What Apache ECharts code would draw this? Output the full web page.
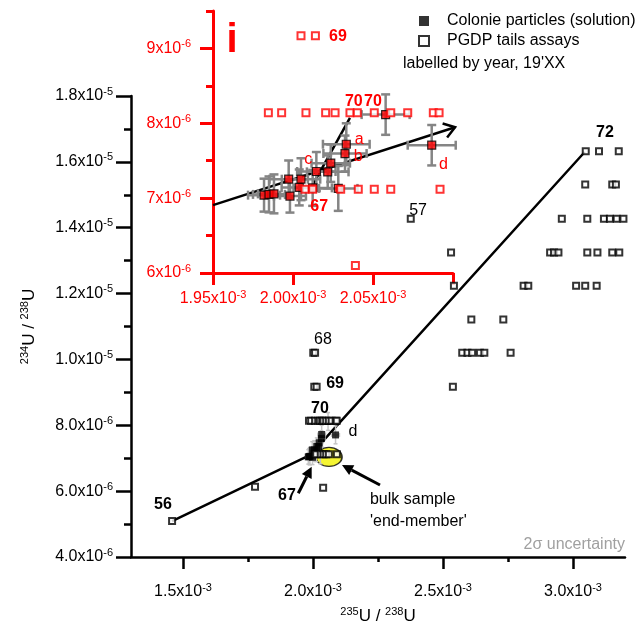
<!DOCTYPE html>
<html><head><meta charset="utf-8">
<script src="https://cdn.jsdelivr.net/npm/echarts@6/dist/echarts.min.js"></script>
<style>html,body{margin:0;padding:0;background:#fff}#c{width:640px;height:628px}</style>
</head><body><div id="c"></div>
<script>
const FONT = "'Liberation Sans', Arial, Helvetica, sans-serif";
// units: x in 1e-3, y in 1e-6
const colonieX = [1.9819,1.9850,1.9881,1.9973,1.9981,2.0039,2.0050,2.0123,2.0146,2.0217,2.0236,2.0283,2.0325,2.0333,2.0579,2.0867];
const colonieY = [7.040,7.050,7.057,7.253,7.027,7.143,7.253,7.137,7.356,7.351,7.467,7.130,7.596,7.720,8.116,7.707];
const colonieXErr = [0.010,0.010,0.010,0.012,0.010,0.011,0.012,0.012,0.012,0.013,0.012,0.012,0.0135,0.0146,0.015,0.015];
const colonieYErr = [0.22,0.24,0.26,0.25,0.22,0.24,0.28,0.24,0.26,0.22,0.25,0.30,0.24,0.28,0.27,0.27];

const pgdpX = [1.458,
  1.777,2.039,
  2.0075,2.0123,2.0298,2.0408,2.0508,2.0611,2.0919,
  1.9846,1.9929,2.0081,2.0204,2.0263,2.0356,2.0402,2.0508,2.0611,2.0717,2.0877,2.0913,
  2.005,2.014,2.538,
  2.001,2.008,2.574,2.594,2.612,2.642,2.659,2.760,
  2.609,2.732,
  2.542,2.810,2.828,3.012,3.047,3.091,
  2.531,2.912,2.927,2.944,3.055,3.094,3.151,3.178,
  2.376,2.957,3.055,3.119,3.142,3.168,3.194,
  3.047,3.151,3.165,
  3.049,3.100,3.176];
const pgdpY = [5.09,
  6.13,6.10,
  7.12,7.12,7.12,7.12,7.12,7.12,7.12,
  8.14,8.14,8.14,8.14,8.14,8.14,8.14,8.14,8.14,8.14,8.14,8.14,
  9.17,9.17,9.17,
  10.20,10.20,10.20,10.20,10.20,10.20,10.20,10.20,
  11.21,11.21,
  12.24,12.24,12.24,12.24,12.24,12.24,
  13.25,13.25,13.25,13.25,13.25,13.25,13.25,13.25,
  14.27,14.27,14.27,14.27,14.27,14.27,14.27,
  15.31,15.31,15.31,
  16.32,16.32,16.32];

// trend lines (main)
const mainLineX = [1.458, 1.99, 3.045];
const mainLineY = [5.09, 7.10, 16.30];
// inset lines: [x0,y0,x1,y1,arrowhead]
const insetLines = [[1.95,6.907,2.1013,7.947,1],[2.0113,7.137,2.0356,8.071,0]];
// main arrows (tail -> head)
const mainArrows = [[1.9435,5.935,1.995,6.742],[2.2577,6.187,2.1115,6.794]];
const ellipseCenter = [2.0615, 7.04];

// tick values / labels
const mainXTicks = [1.5,2.0,2.5,3.0];
const mainXTickMant = ['1.5','2.0','2.5','3.0'];
const mainXTickExp = ['-3','-3','-3','-3'];
const mainXMinor = [1.75,2.25,2.75];
const mainYTicks = [4,6,8,10,12,14,16,18];
const mainYTickMant = ['4.0','6.0','8.0','1.0','1.2','1.4','1.6','1.8'];
const mainYTickExp = ['-6','-6','-6','-5','-5','-5','-5','-5'];
const mainYMinor = [5,7,9,11,13,15,17];
const insetXTicks = [1.95,2.00,2.05,2.10];
const insetXLabelVals = [1.95,2.00,2.05];
const insetXTickMant = ['1.95','2.00','2.05'];
const insetXTickExp = ['-3','-3','-3'];
const insetYTicks = [6,7,8,9];
const insetYTickMant = ['6','7','8','9'];
const insetYTickExp = ['-6','-6','-6','-6'];
const insetYMinor = [6.5,7.5,8.5,9.5];

// annotation texts (main)
const mainLabelText = ['72','68','69','70','d','56','67','57','bulk sample',"'end-member'"];
const mainLabelX = [3.123,2.038,2.085,2.027,2.154,1.423,1.900,2.404,2.219,2.219];
const mainLabelY = [16.88,10.59,9.28,8.52,7.80,5.58,5.88,14.51,5.73,5.09];
// annotation texts (inset)
const insetLabelText = ['i','69','70','70','a','b','c','d','67'];
const insetLabelX = [1.9619,2.0281,2.038,2.050,2.0413,2.0408,2.0096,2.0940,2.0164];
const insetLabelY = [9.10,9.16,8.293,8.293,7.787,7.551,7.52,7.449,6.884];

// styles for annotations
const mainLabelBold = [1,0,1,1,0,1,1,0,0,0];
const mainLabelAlign = ['center','center','center','center','center','center','center','center','left','left'];
const insetLabelFont = ['bold 40px','bold 16px','bold 16px','bold 16px','16px','16px','16px','16px','bold 16px'];

function findIdx(arr, v){ for (let i=0;i<arr.length;i++){ if (Math.abs(arr[i]-v)<1e-6) return i; } return -1; }
function fmt(vals, mant, exp){ return function(v){ const i=findIdx(vals,v); if(i<0) return ''; return '{m|'+mant[i]+'x10}{e|'+exp[i]+'}'; }; }
function rich(color, big, small){ return {
  m:{fontFamily:FONT,fontSize:big,color:color,lineHeight:big+4},
  e:{fontFamily:FONT,fontSize:small,color:color,lineHeight:small,verticalAlign:'top'} }; }

const RED = '#ff0000';

function errRender(color, lw, cap){
  return function(params, api){
    const x=api.value(0), y=api.value(1), xe=api.value(2), ye=api.value(3);
    const l=api.coord([x-xe,y]), r=api.coord([x+xe,y]), t=api.coord([x,y+ye]), b=api.coord([x,y-ye]);
    const st={stroke:color,lineWidth:lw,fill:null};
    const L=(a,b2,c,d)=>({type:'line',shape:{x1:a,y1:b2,x2:c,y2:d},style:st});
    return {type:'group',children:[
      L(l[0],l[1],r[0],r[1]), L(t[0],t[1],b[0],b[1]),
      L(l[0],l[1]-cap,l[0],l[1]+cap), L(r[0],r[1]-cap,r[0],r[1]+cap),
      L(t[0]-cap,t[1],t[0]+cap,t[1]), L(b[0]-cap,b[1],b[0]+cap,b[1])
    ]};
  };
}

function arrowRender(filled){
  return function(params, api){
    const p0=api.coord([api.value(0),api.value(1)]), p1=api.coord([api.value(2),api.value(3)]);
    const head = filled ? 1 : api.value(4);
    const ang=Math.atan2(p1[1]-p0[1], p1[0]-p0[0]);
    const children=[];
    if (filled){
      const hl=11, hw=5.5;
      const bx=p1[0]-hl*Math.cos(ang), by=p1[1]-hl*Math.sin(ang);
      children.push({type:'line',shape:{x1:p0[0],y1:p0[1],x2:bx,y2:by},style:{stroke:'#000',lineWidth:3}});
      children.push({type:'polygon',shape:{points:[[p1[0],p1[1]],[bx+hw*Math.sin(ang),by-hw*Math.cos(ang)],[bx-hw*Math.sin(ang),by+hw*Math.cos(ang)]]},style:{fill:'#000'}});
    } else {
      children.push({type:'line',shape:{x1:p0[0],y1:p0[1],x2:p1[0],y2:p1[1]},style:{stroke:'#000',lineWidth:2.5}});
      if (head){
        const a=13, w=0.6;
        children.push({type:'polyline',shape:{points:[
          [p1[0]-a*Math.cos(ang-w),p1[1]-a*Math.sin(ang-w)],[p1[0],p1[1]],
          [p1[0]-a*Math.cos(ang+w),p1[1]-a*Math.sin(ang+w)]]},style:{stroke:'#000',lineWidth:2.5,fill:null}});
      }
    }
    return {type:'group',children:children};
  };
}

function textRender(texts, fonts, colors, aligns){
  return function(params, api){
    const p=api.coord([api.value(0),api.value(1)]);
    const i=params.dataIndex;
    return {type:'text',x:p[0],y:p[1],style:{text:texts[i],font:fonts[i]+' '+FONT,fill:colors[i],align:aligns[i],verticalAlign:'middle'}};
  };
}

const insetXMin=1.95, insetXMax=2.10, insetYMin=6, insetYMax=9.5;
const colonieData = colonieX.map((x,i)=>[x,colonieY[i]]);
const colonieErrData = colonieX.map((x,i)=>[x,colonieY[i],colonieXErr[i],colonieYErr[i]]);
const pgdpData = pgdpX.map((x,i)=>[x,pgdpY[i]]);
const pgdpInset = pgdpData.filter(p=>p[0]>=insetXMin && p[0]<=insetXMax && p[1]>=insetYMin && p[1]<=insetYMax);

const mainLabelFonts = mainLabelBold.map(b=>(b?'bold ':'')+'16px');
const mainLabelColors = mainLabelText.map(()=> '#000');
const insetLabelColors = insetLabelText.map(()=>RED);
const insetLabelAligns = insetLabelText.map(()=> 'center');

const option = {
  animation:false,
  backgroundColor:'#fff',
  textStyle:{fontFamily:FONT},
  grid:[
    {left:131, top:96, width:494, height:461, outerBoundsMode:'none', containLabel:false},
    {left:213, top:11, width:240, height:262, outerBoundsMode:'none', containLabel:false}
  ],
  legend:{
    orient:'vertical', left:413, top:8, itemWidth:10, itemHeight:10, itemGap:4,
    selectedMode:false,
    textStyle:{fontFamily:FONT,fontSize:16,color:'#000',padding:[0,0,0,13]},
    data:['Colonie particles (solution)','PGDP tails assays']
  },
  xAxis:[
    {type:'value', gridIndex:0, position:'bottom', min:1.3, max:3.2,
     axisLine:{show:true,onZero:false,lineStyle:{color:'#000',width:2.5}},
     axisTick:{show:true,customValues:mainXTicks,length:12,lineStyle:{color:'#000',width:2.5}},
     axisLabel:{customValues:mainXTicks,formatter:fmt(mainXTicks,mainXTickMant,mainXTickExp),margin:25,rich:rich('#000',16,11)},
     splitLine:{show:false},
     name:'{e|235}{m|U / }{e|238}{m|U}', nameLocation:'middle', nameGap:49,
     nameTextStyle:{rich:rich('#000',17,11)}},
    {type:'value', gridIndex:0, position:'bottom', min:1.3, max:3.2,
     axisLine:{show:false}, axisLabel:{show:false}, splitLine:{show:false},
     axisTick:{show:true,customValues:mainXMinor,length:5,lineStyle:{color:'#000',width:2.5}}},
    {type:'value', gridIndex:1, position:'bottom', min:insetXMin, max:insetXMax,
     axisLine:{show:true,onZero:false,lineStyle:{color:RED,width:3}},
     axisTick:{show:true,customValues:insetXTicks,length:12,lineStyle:{color:RED,width:3}},
     axisLabel:{customValues:insetXLabelVals,formatter:fmt(insetXLabelVals,insetXTickMant,insetXTickExp),margin:16,rich:rich(RED,16,11)},
     splitLine:{show:false}}
  ],
  yAxis:[
    {type:'value', gridIndex:0, position:'left', min:4, max:18,
     axisLine:{show:true,onZero:false,lineStyle:{color:'#000',width:2.5}},
     axisTick:{show:true,customValues:mainYTicks,length:15,lineStyle:{color:'#000',width:2.5}},
     axisLabel:{customValues:mainYTicks,formatter:fmt(mainYTicks,mainYTickMant,mainYTickExp),margin:18,rich:rich('#000',16,11)},
     splitLine:{show:false},
     name:'{e|234}{m|U / }{e|238}{m|U}', nameLocation:'middle', nameGap:91, nameRotate:90,
     nameTextStyle:{rich:rich('#000',17,11)}},
    {type:'value', gridIndex:0, position:'left', min:4, max:18,
     axisLine:{show:false}, axisLabel:{show:false}, splitLine:{show:false},
     axisTick:{show:true,customValues:mainYMinor,length:7,lineStyle:{color:'#000',width:2.5}}},
    {type:'value', gridIndex:1, position:'left', min:insetYMin, max:insetYMax,
     axisLine:{show:true,onZero:false,lineStyle:{color:RED,width:3}},
     axisTick:{show:true,customValues:insetYTicks,length:13,lineStyle:{color:RED,width:3}},
     axisLabel:{customValues:insetYTicks,formatter:fmt(insetYTicks,insetYTickMant,insetYTickExp),margin:22,rich:rich(RED,16,11)},
     splitLine:{show:false}},
    {type:'value', gridIndex:1, position:'left', min:insetYMin, max:insetYMax,
     axisLine:{show:false}, axisLabel:{show:false}, splitLine:{show:false},
     axisTick:{show:true,customValues:insetYMinor,length:7,lineStyle:{color:RED,width:3}}}
  ],
  graphic:[
    {type:'text', left:403, top:56, style:{text:"labelled by year, 19'XX", font:'16px '+FONT, fill:'#000'}},
    {type:'text', right:15, top:537, style:{text:'2\u03c3 uncertainty', font:'16px '+FONT, fill:'#a0a0a0'}}
  ],
  series:[
    {type:'scatter', name:'ellipse', xAxisIndex:0, yAxisIndex:0, z:1, silent:true,
     data:[ellipseCenter], symbol:'circle', symbolSize:[26,19],
     itemStyle:{color:'#f2f200',borderColor:'#000',borderWidth:1.5}},
    {type:'line', name:'mainLine', xAxisIndex:0, yAxisIndex:0, z:2, silent:true,
     data:mainLineX.map((x,i)=>[x,mainLineY[i]]), symbol:'none',
     lineStyle:{color:'#000',width:2.5}},
    {type:'custom', name:'mainErr', xAxisIndex:0, yAxisIndex:0, z:3, silent:true,
     data:colonieErrData, renderItem:errRender('#c4c4c4',1.5,2)},
    {type:'scatter', name:'Colonie particles (solution)', xAxisIndex:0, yAxisIndex:0, z:4,
     data:colonieData, symbol:'rect', symbolSize:7, itemStyle:{color:'#000'}},
    {type:'scatter', name:'PGDP tails assays', xAxisIndex:0, yAxisIndex:0, z:5,
     data:pgdpData, symbol:'rect', symbolSize:6, itemStyle:{color:'#fff',borderColor:'#000',borderWidth:2}},
    {type:'custom', name:'mainArrows', xAxisIndex:0, yAxisIndex:0, z:6, silent:true,
     data:mainArrows, renderItem:arrowRender(true)},
    {type:'custom', name:'mainLabels', xAxisIndex:0, yAxisIndex:0, z:7, silent:true,
     data:mainLabelX.map((x,i)=>[x,mainLabelY[i]]),
     renderItem:textRender(mainLabelText,mainLabelFonts,mainLabelColors,mainLabelAlign)},
    // inset
    {type:'custom', name:'insetLines', xAxisIndex:2, yAxisIndex:2, z:10, silent:true,
     data:insetLines, renderItem:arrowRender(false)},
    {type:'custom', name:'insetErr', xAxisIndex:2, yAxisIndex:2, z:11, silent:true,
     data:colonieErrData, renderItem:errRender('#858585',2.5,4.5)},
    {type:'scatter', name:'insetColonie', xAxisIndex:2, yAxisIndex:2, z:12,
     data:colonieData, symbol:'rect', symbolSize:8, itemStyle:{color:RED,borderColor:'#000',borderWidth:1.2}},
    {type:'scatter', name:'insetPGDP', xAxisIndex:2, yAxisIndex:2, z:13,
     data:pgdpInset, symbol:'rect', symbolSize:7, itemStyle:{color:'#fff',borderColor:RED,borderWidth:2}},
    {type:'custom', name:'insetLabels', xAxisIndex:2, yAxisIndex:2, z:14, silent:true,
     data:insetLabelX.map((x,i)=>[x,insetLabelY[i]]),
     renderItem:textRender(insetLabelText,insetLabelFont,insetLabelColors,insetLabelAligns)}
  ]
};
const chart = echarts.init(document.getElementById('c'), null, {renderer:'canvas'});
chart.setOption(option);
</script></body></html>
